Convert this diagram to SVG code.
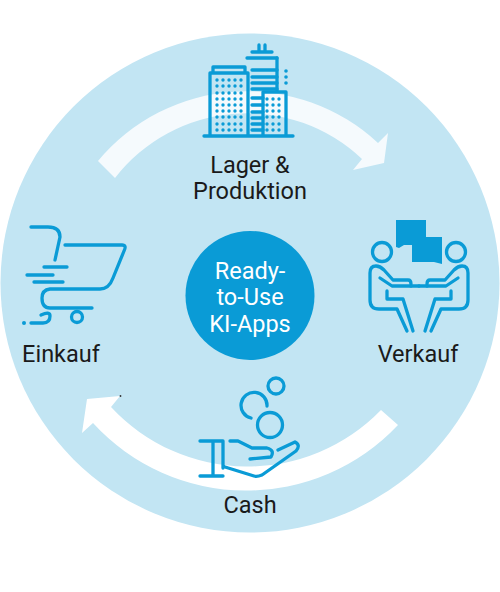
<svg xmlns="http://www.w3.org/2000/svg" width="500" height="592" viewBox="0 0 500 592">
<style>
.l{font-family:Roboto,"Noto Sans",sans-serif;font-size:23.500px;fill:#1a1a1a;text-anchor:middle}
.w{font-family:Roboto,"Noto Sans",sans-serif;font-size:23.500px;fill:#fff;text-anchor:middle}
.i{fill:none;stroke:#0a9bd6;stroke-width:3.300;stroke-linecap:round;stroke-linejoin:round}
.d{fill:#0a9bd6}
</style>
<defs>
<g id="p"><circle cx="382" cy="252" r="9.500"/>
<path d="M411 284Q411 280 408 280H393L384 270Q380 266 376 266Q370 266 370 273V300Q370 309 379 309H397L407 331"/>
<path d="M380 278L392 286H411"/>
<path d="M387 291V299H403L413 331"/>
<path d="M411 286H419"/></g>
</defs>
<circle cx="250" cy="283" r="249.500" fill="#c2e5f3"/>
<g id="connectors">
<path d="M98 161A193 193 0 0 1 378 143L388 133L384 163L353 170L362 159A167 167 0 0 0 115 178Z" fill="#f5fafd"/>
<path d="M398 425A208 208 0 0 1 93 423L82 433L87 399L120 396L111 407A186 186 0 0 0 381 410Z" fill="#fff"/>
<circle cx="120.500" cy="396" r="0.900" fill="#333"/>
</g>
<g id="center"><circle cx="250" cy="295.500" r="64.500" fill="#0a9bd6"/>
<text class="w" x="250" y="279">Ready-</text><text class="w" x="250" y="305">to-Use</text><text class="w" x="250" y="332">KI-Apps</text></g>
<g id="lager">
<g class="i">
<path d="M204 136H293M210 136V73H248V136M213 73V67H245V73M277 92V58M263 136V92H286V136"/>
<path d="M259 45V51M265 45V51M252 52H272M247 58H277M252 70H277M252 77H277M252 83H277M252 89H277M252 98H263M252 105H263M252 112H263M252 118H263M252 124H263M252 130H263"/>
</g>
<g class="d"><circle cx="286" cy="71" r="1.800"/><circle cx="286" cy="77" r="1.800"/><circle cx="286" cy="83" r="1.800"/></g>
<path d="M217 80h0m6 0h0m6 0h0m6 0h0m6 0h0M217 86h0m6 0h0m6 0h0m6 0h0m6 0h0M217 93h0m6 0h0m6 0h0m6 0h0m6 0h0M217 99h0m6 0h0m6 0h0m6 0h0m6 0h0M217 105h0m6 0h0m6 0h0m6 0h0m6 0h0M217 111h0m6 0h0m6 0h0m6 0h0m6 0h0M217 117h0m6 0h0m6 0h0m6 0h0m6 0h0M217 124h0m6 0h0m6 0h0m6 0h0m6 0h0M217 130h0m6 0h0m6 0h0m6 0h0m6 0h0M267 99h0m6 0h0m6 0h0M267 105h0m6 0h0m6 0h0M267 111h0m6 0h0m6 0h0M267 117h0m6 0h0m6 0h0M267 124h0m6 0h0m6 0h0M267 130h0m6 0h0m6 0h0" stroke="#0a9bd6" stroke-width="3.400" stroke-linecap="round" fill="none"/>
<text class="l" x="250" y="173">Lager &amp;</text><text class="l" x="250" y="199">Produktion</text></g>
<g id="verkauf">
<path class="d" d="M396 220H426V237H442V264L438 263L434 262H412V245H404L399 248L396 247Z"/>
<use href="#p" class="i"/><use href="#p" class="i" transform="matrix(-1 0 0 1 838 0)"/>
<text class="l" x="418" y="362">Verkauf</text></g>
<g id="einkauf">
<g class="i"><path d="M31 227H48Q60 227 60 237L55 260M65 245H122Q127 245 124 251L113 278Q109 289 100 289H50Q42 290 42 298Q42 308 50 308H92"/>
<path d="M44 267H67M27 275H53M34 282H63M31 323H43Q50 323 50 316Q50 311 41 315"/><circle cx="77" cy="317" r="5.500"/></g>
<circle class="d" cx="24" cy="323" r="2"/>
<text class="l" x="61" y="362">Einkauf</text></g>
<g id="cash">
<g class="i"><circle cx="276" cy="386" r="8"/><circle cx="270" cy="425" r="12.500"/><path d="M251 418A13 13 0 1 1 267 406"/>
<path d="M200 441H223M200 476H223M213 441V476M223 441V468M230 441H238L252 448H267Q275 450 271 457L250 459M225 467L254 476Q257 477 262 475L296 451Q301 445 295 442L278 450"/></g>
<text class="l" x="250" y="513">Cash</text></g>
</svg>
